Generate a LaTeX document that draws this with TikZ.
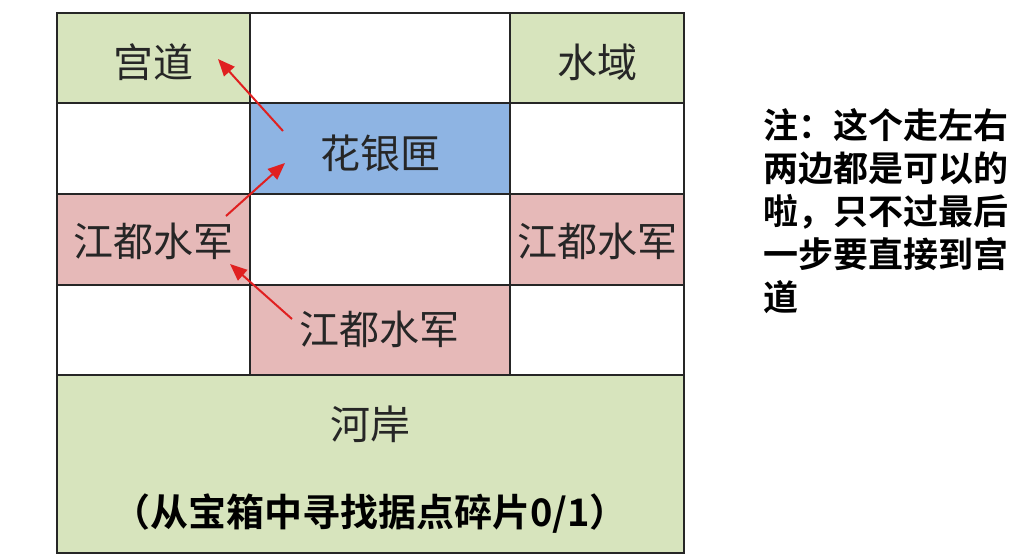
\documentclass[tikz,border=0pt]{standalone}
\usepackage{fontspec}
\newfontfamily\cjk{Noto Sans CJK SC}
\newfontfamily\cjkb{Noto Sans CJK SC Bold}
\usetikzlibrary{arrows.meta}
\definecolor{cgreen}{HTML}{D7E4BD}
\definecolor{cblue}{HTML}{8EB4E3}
\definecolor{cpink}{HTML}{E6B9B8}
\definecolor{cred}{HTML}{E02020}
\tikzset{
  cell/.style={draw=black!85, line width=1.5pt},
  lbl/.style={font=\cjk\fontsize{40}{46}\selectfont, text=black!85, inner sep=0pt},
  note/.style={font=\cjkb\fontsize{35}{43}\selectfont, align=left, anchor=north west, inner sep=0pt},
  redarrow/.style={draw=cred, line width=2pt, -{Triangle[length=17pt,width=14pt]}}
}
\begin{document}
\begin{tikzpicture}[x=1pt,y=-1pt]
\useasboundingbox (0,0) rectangle (1024,558);
\fill[white] (0,0) rectangle (1024,558);
% fills
\fill[cgreen] (57,13) rectangle (250,103);
\fill[cgreen] (510,13) rectangle (684,103);
\fill[cblue] (250,103) rectangle (510,194);
\fill[cpink] (57,194) rectangle (250,285);
\fill[cpink] (510,194) rectangle (684,285);
\fill[cpink] (250,285) rectangle (510,375);
\fill[cgreen] (57,375) rectangle (684,553);
% grid lines
\draw[cell] (57,13) rectangle (684,553);
\draw[cell] (57,103) -- (684,103);
\draw[cell] (57,194) -- (684,194);
\draw[cell] (57,285) -- (684,285);
\draw[cell] (57,375) -- (684,375);
\draw[cell] (250,13) -- (250,375);
\draw[cell] (510,13) -- (510,375);
% labels
\node[lbl] (gd) at (153,62) {宫道};
\node[lbl] (sy) at (597,62) {水域};
\node[lbl] (hyx) at (380,153) {花银匣};
\node[lbl] (jl) at (153,241) {江都水军};
\node[lbl] (jr) at (597,241) {江都水军};
\node[lbl] (jb) at (379,329) {江都水军};
\node[lbl] (ha) at (370,424) {河岸};
\node[font=\cjkb\fontsize{38}{44}\selectfont, inner sep=0pt] (bt) at (370,514) {（从宝箱中寻找据点碎片0/1）};
% note
\node[note] (nt) at (763,108) {注：这个走左右\\两边都是可以的\\啦，只不过最后\\一步要直接到宫\\道};
% arrows
\coordinate (a1s) at (283,131);
\coordinate (a1e) at (218,59);
\coordinate (a2s) at (226,216);
\coordinate (a2e) at (285,163);
\coordinate (a3s) at (292,319);
\coordinate (a3e) at (230,264);
\draw[redarrow] (a1s) -- (a1e);
\draw[redarrow] (a2s) -- (a2e);
\draw[redarrow] (a3s) -- (a3e);
\end{tikzpicture}
\end{document}
